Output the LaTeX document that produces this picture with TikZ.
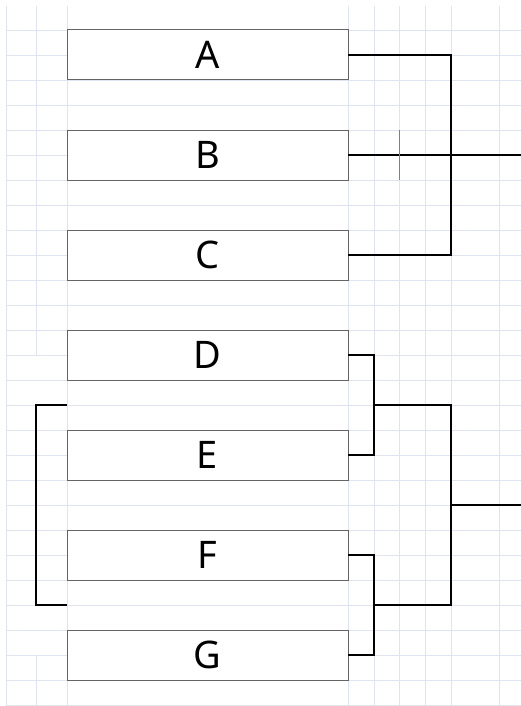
\documentclass[tikz,border=0pt]{standalone}
\usepackage{fontspec}
\setmainfont{Noto Sans}
\usepackage{xcolor}
\usepackage{tikz}
\usetikzlibrary{positioning}

\definecolor{gridc}{RGB}{224,228,240}
\definecolor{boxc}{RGB}{100,100,100}

\begin{document}
\begin{tikzpicture}[x=1pt, y=-1pt,
  cell/.style={draw=gridc, line width=0.8pt},
  box/.style={draw=boxc, fill=white, line width=1pt, minimum width=281pt, minimum height=50pt,
    inner sep=0pt, outer sep=0pt, font=\fontsize{38}{40}\selectfont},
  conn/.style={draw=black, line width=1.3pt}]
\useasboundingbox (0,0) rectangle (521,706);
% sheet grid
\foreach \x in {6,67,348,374,399,425,451,499}
  \draw[cell] (\x,6) -- (\x,706);
\draw[cell] (36,6) -- (36,355);
\draw[cell] (36,655) -- (36,706);
\foreach \y in {30,55,...,705}
  \draw[cell] (6,\y) -- (521,\y);
% entries
\node[box] (A) at (207.5,55) {A};
\node[box, below=50pt of A] (B) {B};
\node[box, below=50pt of B] (C) {C};
\node[box, below=50pt of C] (D) {D};
\node[box, below=50pt of D] (E) {E};
\node[box, below=50pt of E] (F) {F};
\node[box, below=50pt of F] (G) {G};
% joins
\coordinate (ac) at (451,155);
\coordinate (outB) at (521,155);
\coordinate (tickT) at (399,130);
\coordinate (tickB) at (399,180);
\coordinate (de) at (374,405);
\coordinate (fg) at (374,605);
\coordinate (defg) at (451,505);
\coordinate (outG) at (521,505);
\coordinate (bkT) at (67,405);
\coordinate (bkB) at (67,605);
\draw[conn] (A.east) -| (ac) |- (C.east);
\draw[conn] (B.east) -- (outB);
\draw[draw=gray, line width=1pt] (tickT) -- (tickB);
\draw[conn] (D.east) -| (de) |- (E.east);
\draw[conn] (F.east) -| (fg) |- (G.east);
\draw[conn] (de) -| (defg) |- (fg);
\draw[conn] (defg) -- (outG);
\draw[conn] (bkT) -- ++(-31,0) |- (bkB);
\end{tikzpicture}
\end{document}
